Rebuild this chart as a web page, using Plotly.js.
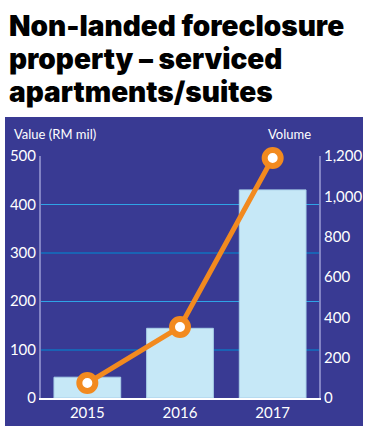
<!DOCTYPE html>
<html><head><meta charset="utf-8">
<script src="https://cdn.plot.ly/plotly-3.0.1.min.js"></script>
<style>html,body{margin:0;padding:0;background:#fff}#chart{width:368px;height:435px}</style>
</head><body><div id="chart"></div>
<script>
const titleLines = ['Non-landed foreclosure', 'property – serviced', 'apartments/suites'];
const years = ['2015', '2016', '2017'];
const valueRM = [43, 144, 430];
const volume = [74, 352, 1190];
const leftTicks = [0, 100, 200, 300, 400, 500];
const rightTicks = [0, 200, 400, 600, 800, 1000, 1200];
const rightTickText = ['0', '200', '400', '600', '800', '1,000', '1,200'];
const darkGrid = [100, 300, 500];
const lightGrid = [200, 400];

// plot area in pixels: top 156, bottom 398, left 41, right 319
const PT = 156, PB = 398, PH = PB - PT, PL = 41, PW = 278;
const py = p => (PB - p) / PH;
const px = p => (p - PL) / PW;

const tickFont = {family: 'Lato, "Open Sans", sans-serif', size: 15, color: '#ffffff'};
const data = [
  {type: 'scatter', x: years, y: [null, null, null], yaxis: 'y4', hoverinfo: 'skip', showlegend: false},
  {type: 'scatter', x: years, y: [null, null, null], yaxis: 'y3', hoverinfo: 'skip', showlegend: false},
  {type: 'bar', x: years, y: valueRM, xaxis: 'x', yaxis: 'y',
   marker: {color: '#c6e8f7', line: {color: '#a9cfe8', width: 1}}, width: 0.72, hoverinfo: 'skip'},
  {type: 'scatter', mode: 'lines+markers', x: years, y: volume, xaxis: 'x', yaxis: 'y2',
   cliponaxis: false,
   line: {color: '#f28a1f', width: 5},
   marker: {size: 16, color: '#ffffff', line: {color: '#f28a1f', width: 6}}}
];
const titleFont = {family: 'Inter, "Noto Sans", sans-serif', size: 28, color: '#000000', weight: 900};
const titleY = [26, 59, 92];
const annotations = titleLines.map((t, i) => ({
  xref: 'paper', yref: 'paper', x: px(7), y: py(titleY[i]), xanchor: 'left', yanchor: 'middle',
  text: t, showarrow: false, font: titleFont
}));
annotations.push(
  {xref: 'paper', yref: 'paper', x: px(12), y: py(134), xanchor: 'left', yanchor: 'middle',
   text: 'Value (RM mil)', showarrow: false,
   font: {family: 'Lato, "Open Sans", sans-serif', size: 13, color: '#ffffff'}},
  {xref: 'paper', yref: 'paper', x: px(313), y: py(134), xanchor: 'right', yanchor: 'middle',
   text: 'Volume', showarrow: false,
   font: {family: 'Lato, "Open Sans", sans-serif', size: 13, color: '#ffffff'}}
);
const layout = {
  width: 368, height: 435,
  margin: {l: PL, r: 368 - PL - PW, t: PT, b: 435 - PB, pad: 0},
  paper_bgcolor: '#ffffff', plot_bgcolor: 'rgba(0,0,0,0)',
  showlegend: false,
  bargap: 0.28,
  xaxis: {
    type: 'category', range: [-0.5, 2.5], showgrid: false, zeroline: false,
    showline: true, linecolor: '#ffffff', linewidth: 2, ticks: '',
    tickfont: tickFont, fixedrange: true
  },
  yaxis: {
    range: [0, 500], tickvals: leftTicks, ticktext: leftTicks.map(String),
    showgrid: false, zeroline: false, showline: true, linecolor: '#8283c4', linewidth: 2,
    ticks: '', ticklabelstandoff: 0, tickfont: tickFont, fixedrange: true
  },
  yaxis2: {
    overlaying: 'y', side: 'right', range: [0, 1200],
    tickvals: rightTicks, ticktext: rightTickText,
    showgrid: false, zeroline: false, showline: true, linecolor: '#8283c4', linewidth: 2,
    ticks: '', ticklabelstandoff: 0, tickfont: tickFont, fixedrange: true
  },
  yaxis3: {
    overlaying: 'y', range: [0, 500], tickvals: darkGrid, showticklabels: false,
    showgrid: true, gridcolor: '#1a63b4', gridwidth: 2, zeroline: false, showline: false, ticks: ''
  },
  yaxis4: {
    overlaying: 'y', range: [0, 500], tickvals: lightGrid, showticklabels: false,
    showgrid: true, gridcolor: '#2fa3e6', gridwidth: 1, zeroline: false, showline: false, ticks: ''
  },
  shapes: [
    {type: 'rect', xref: 'paper', yref: 'paper', layer: 'below',
     x0: px(5), x1: px(363), y0: py(426), y1: py(117),
     fillcolor: '#393a93', line: {width: 0}}
  ],
  annotations: annotations
};
Plotly.newPlot('chart', data, layout, {displayModeBar: false, staticPlot: true});
</script>
</body></html>
